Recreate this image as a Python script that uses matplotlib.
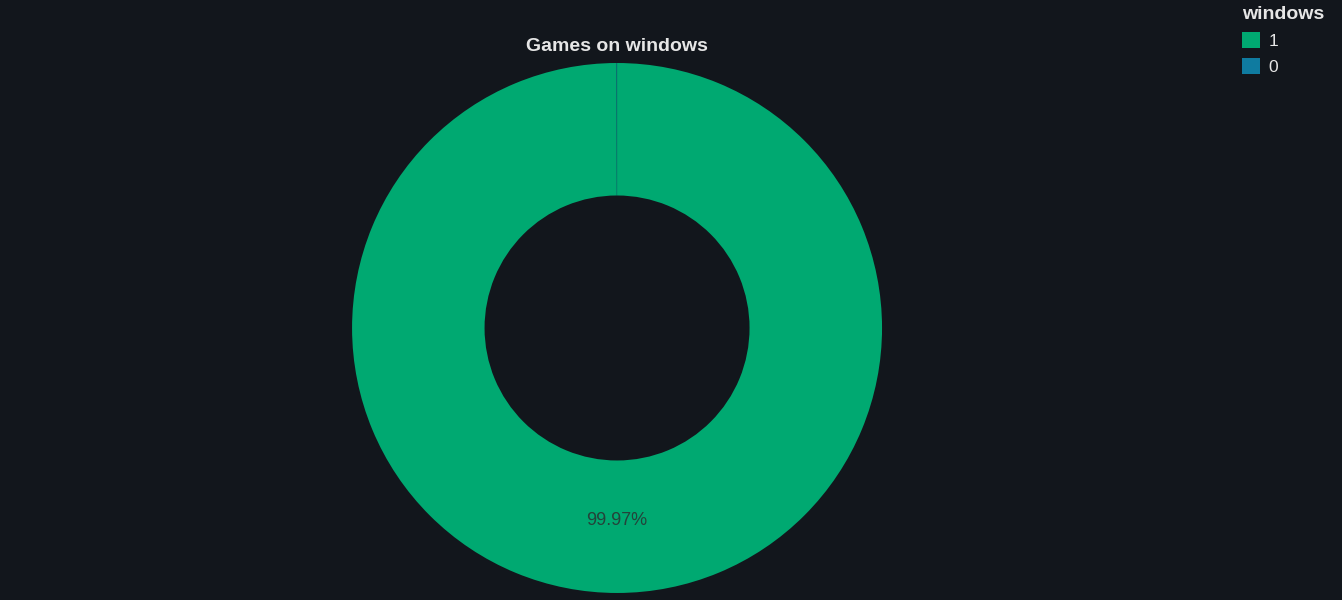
import matplotlib
matplotlib.use('Agg')
import matplotlib.pyplot as plt

# data
labels = ["1", "0"]
shares = [99.97, 0.03]
colors = ["#00a971", "#0f7ba0"]

bg = "#12161c"
text_color = "#e6e6e6"

plt.rcParams['font.family'] = ['Liberation Sans', 'DejaVu Sans']

fig = plt.figure(figsize=(13.42, 6), dpi=100, facecolor=bg)
ax = fig.add_axes([0.2623, 0.0117, 0.395, 0.8833])
ax.set_facecolor(bg)

wedges, _ = ax.pie(shares, colors=colors, startangle=90, counterclock=False,
                   radius=1.0, wedgeprops=dict(width=0.5, linewidth=0))

# percent label only on the big slice (plotly hides the tiny one)
ax.text(0, -0.725, f"{shares[0]:.2f}%", ha="center", va="center",
        fontsize=13, color="#24433a")
ax.set_xlim(-1, 1)
ax.set_ylim(-1, 1)
ax.set_aspect("equal")
ax.axis("off")

fig.text(0.4598, 0.923, "Games on windows", ha="center", va="center",
         fontsize=14, fontweight="bold", color=text_color)

leg = fig.legend(wedges, labels, title="windows", loc="upper left",
                 bbox_to_anchor=(0.918, 1.008), frameon=False,
                 fontsize=12.5, title_fontsize=14, handlelength=1.0,
                 handleheight=1.0, handletextpad=0.5, labelspacing=0.55,
                 borderaxespad=0.2)
leg.get_title().set_fontweight("bold")
leg.get_title().set_color(text_color)
leg._legend_box.align = "left"
for t in leg.get_texts():
    t.set_color(text_color)

fig.savefig("out.png", dpi=100, facecolor=bg)
